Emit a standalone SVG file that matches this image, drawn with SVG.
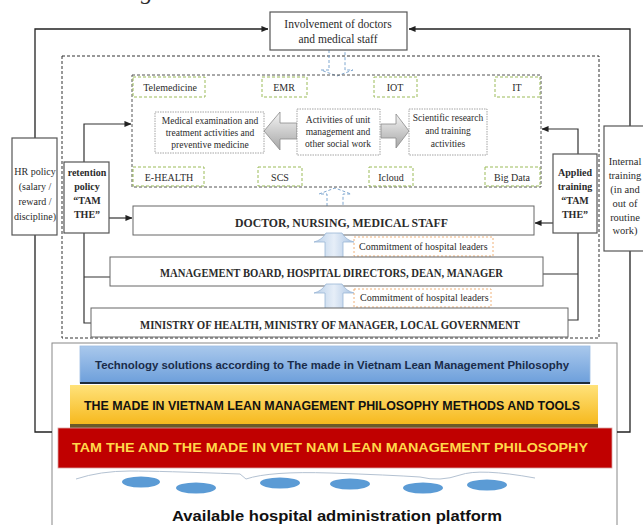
<svg xmlns="http://www.w3.org/2000/svg" width="643" height="525" viewBox="0 0 643 525">
  <defs>
    <style>
      .serif { font-family: "Liberation Serif", "Times New Roman", serif; fill: #2b2b2b; }
      .sans { font-family: "Liberation Sans", Arial, sans-serif; font-weight: bold; }
      .box { fill: #fff; stroke: #555; stroke-width: 1.2; }
      .tier { fill: #fff; stroke: #666; stroke-width: 1; }
      .act { fill: #fff; stroke: #9a9a9a; stroke-width: 0.9; stroke-dasharray: 1.5 1; }
      .tech { fill: none; stroke: #9bbb59; stroke-width: 1; stroke-dasharray: 3 2; }
      .commit { fill: #fff; stroke: #f0b27a; stroke-width: 1; stroke-dasharray: 2 2; }
      .wire { fill: none; stroke: #222; stroke-width: 1.3; }
      .link { fill: none; stroke: #333; stroke-width: 1.2; }
      .flow { fill: none; stroke: #7fa7d0; stroke-width: 1; stroke-dasharray: 3 2; }
      .c { text-anchor: middle; }
    </style>
    <marker id="arr" viewBox="0 0 8 8" refX="7.5" refY="4" markerWidth="7" markerHeight="7" markerUnits="userSpaceOnUse" orient="auto">
      <path d="M0,0.5 L8,4 L0,7.5 Z" fill="#222"/>
    </marker>
    <linearGradient id="gGray" x1="0" y1="0" x2="0" y2="1">
      <stop offset="0" stop-color="#f4f4f4"/>
      <stop offset="1" stop-color="#a6a6a6"/>
    </linearGradient>
    <linearGradient id="gUp" x1="0" y1="0" x2="1" y2="0">
      <stop offset="0" stop-color="#b8cfe8"/>
      <stop offset="0.5" stop-color="#e6eef8"/>
      <stop offset="1" stop-color="#a9c3e2"/>
    </linearGradient>
    <linearGradient id="gBlue" x1="0" y1="0" x2="0" y2="1">
      <stop offset="0" stop-color="#a9c8ec"/>
      <stop offset="1" stop-color="#6d9fdb"/>
    </linearGradient>
    <linearGradient id="gYellow" x1="0" y1="0" x2="0" y2="1">
      <stop offset="0" stop-color="#ffe27a"/>
      <stop offset="1" stop-color="#f6b81c"/>
    </linearGradient>
  </defs>

  <!-- descender of heading text above the figure -->
  <text class="serif" x="141" y="-1" font-size="24" font-style="italic" fill="#222">g</text>

  <!-- outer dashed frame around the organisation levels -->
  <rect x="62" y="56" width="537" height="282" fill="none" stroke="#333" stroke-width="1" stroke-dasharray="3 2"/>

  <!-- platform frame -->
  <rect x="52" y="343" width="565" height="190" fill="#fff" stroke="#888" stroke-width="1"/>

  <!-- connectors -->
  <g id="connectors">
    <path class="wire" d="M35,138 V29 H268" marker-end="url(#arr)"/>
    <path class="wire" d="M35,235 V432 H52"/>
    <path class="wire" d="M630,126 V29 H409" marker-end="url(#arr)"/>
    <path class="wire" d="M630,251 V432 H617"/>
    <path class="link" d="M84,162 V124 H131" marker-end="url(#arr)"/>
    <path class="link" d="M109,218 H132" marker-end="url(#arr)"/>
    <path class="link" d="M84,233 V323 H91 M84,277 H110"/>
    <path class="link" d="M578,154 V129 H542" marker-end="url(#arr)"/>
    <path class="link" d="M553,223 H535" marker-end="url(#arr)"/>
    <path class="link" d="M578,233 V320 H568 M578,274 H543"/>
    <path class="flow" d="M329,50 V70 H321 L337,76 L353,70 H345 V50"/>
    <path class="flow" d="M327,206 V194 H319 L335,188 L351,194 H343 V206"/>
  </g>

  <!-- top node -->
  <g id="involvement">
    <rect class="box" x="270" y="12" width="137" height="38"/>
    <text class="serif c" x="338" y="28" font-size="11.5">Involvement of doctors</text>
    <text class="serif c" x="338" y="43" font-size="11.5">and medical staff</text>
  </g>

  <!-- technology area -->
  <g id="technology">
    <rect x="132" y="75" width="409" height="112" fill="none" stroke="#555" stroke-width="1" stroke-dasharray="3 2"/>
    <rect class="tech" x="133" y="77" width="72" height="20"/>
    <text class="serif c" x="170" y="91" font-size="10">Telemedicine</text>
    <rect class="tech" x="262" y="77" width="45" height="20"/>
    <text class="serif c" x="284" y="91" font-size="10">EMR</text>
    <rect class="tech" x="374" y="77" width="43" height="20"/>
    <text class="serif c" x="395" y="91" font-size="10">IOT</text>
    <rect class="tech" x="495" y="77" width="45" height="20"/>
    <text class="serif c" x="517" y="91" font-size="10">IT</text>
    <rect class="tech" x="133" y="167" width="71" height="19"/>
    <text class="serif c" x="169" y="181" font-size="10">E-HEALTH</text>
    <rect class="tech" x="258" y="167" width="44" height="19"/>
    <text class="serif c" x="280" y="181" font-size="10">SCS</text>
    <rect class="tech" x="369" y="167" width="44" height="19"/>
    <text class="serif c" x="391" y="181" font-size="10">Icloud</text>
    <rect class="tech" x="485" y="167" width="55" height="19"/>
    <text class="serif c" x="512" y="181" font-size="10">Big Data</text>
  </g>

  <g id="medical">
    <rect class="act" x="155" y="112" width="109" height="41"/>
    <text class="serif c" x="210" y="124" font-size="9.5">Medical examination and</text>
    <text class="serif c" x="210" y="136" font-size="9.5">treatment activities and</text>
    <text class="serif c" x="210" y="148" font-size="9.5">preventive medicine</text>
  </g>
  <g id="arrow-left">
    <path d="M297,123 H280 V112 L264,131 L280,150 V139 H297 Z" fill="url(#gGray)" stroke="#8a8a8a" stroke-width="0.8"/>
  </g>
  <g id="unit">
    <rect class="act" x="297" y="109" width="83" height="46"/>
    <text class="serif c" x="338" y="123" font-size="9.5">Activities of unit</text>
    <text class="serif c" x="338" y="135" font-size="9.5">management and</text>
    <text class="serif c" x="338" y="147" font-size="9.5">other social work</text>
  </g>
  <g id="arrow-right">
    <path d="M381,124 H396 V114 L409,131 L396,148 V138 H381 Z" fill="url(#gGray)" stroke="#8a8a8a" stroke-width="0.8"/>
  </g>
  <g id="research">
    <rect class="act" x="409" y="109" width="78" height="46"/>
    <text class="serif c" x="448" y="121" font-size="9.5">Scientific research</text>
    <text class="serif c" x="448" y="134" font-size="9.5">and training</text>
    <text class="serif c" x="448" y="147" font-size="9.5">activities</text>
  </g>

  <!-- side policy nodes -->
  <g id="hr-policy">
    <rect class="box" x="12" y="138" width="45" height="97"/>
    <text class="serif c" x="35" y="175" font-size="10">HR policy</text>
    <text class="serif c" x="35" y="190" font-size="10">(salary /</text>
    <text class="serif c" x="35" y="205" font-size="10">reward /</text>
    <text class="serif c" x="35" y="220" font-size="10">discipline)</text>
  </g>
  <g id="retention">
    <rect class="box" x="64" y="162" width="45" height="71"/>
    <text class="serif c" x="87" y="176" font-size="10" font-weight="bold">retention</text>
    <text class="serif c" x="87" y="190" font-size="10" font-weight="bold">policy</text>
    <text class="serif c" x="87" y="204" font-size="10" font-weight="bold">“TAM</text>
    <text class="serif c" x="87" y="218" font-size="10" font-weight="bold">THE”</text>
  </g>
  <g id="applied">
    <rect class="box" x="553" y="154" width="44" height="79"/>
    <text class="serif c" x="575" y="176" font-size="10" font-weight="bold">Applied</text>
    <text class="serif c" x="575" y="190" font-size="10" font-weight="bold">training</text>
    <text class="serif c" x="575" y="204" font-size="10" font-weight="bold">“TAM</text>
    <text class="serif c" x="575" y="218" font-size="10" font-weight="bold">THE”</text>
  </g>
  <g id="internal">
    <rect class="box" x="604" y="126" width="50" height="125"/>
    <text class="serif c" x="625" y="165" font-size="10.5">Internal</text>
    <text class="serif c" x="625" y="179" font-size="10.5">training</text>
    <text class="serif c" x="625" y="193" font-size="10.5">(in and</text>
    <text class="serif c" x="625" y="207" font-size="10.5">out of</text>
    <text class="serif c" x="625" y="221" font-size="10.5">routine</text>
    <text class="serif c" x="625" y="234" font-size="10.5">work)</text>
  </g>

  <!-- organisation levels -->
  <g id="staff">
    <rect class="tier" x="133" y="206" width="401" height="29"/>
    <text class="serif" x="235" y="227" font-size="11.5" font-weight="bold" textLength="213" lengthAdjust="spacingAndGlyphs">DOCTOR, NURSING, MEDICAL STAFF</text>
  </g>
  <g id="commit-1">
    <path d="M325,261 V242 H314 Q322,240 326,233 H342 Q346,240 354,242 H343 V261 Z" fill="url(#gUp)" stroke="#9bb6d6" stroke-width="0.8"/>
    <rect class="commit" x="354" y="237" width="139" height="19"/>
    <text class="serif" x="359" y="250" font-size="10">Commitment of hospital leaders</text>
  </g>
  <g id="board">
    <rect class="tier" x="110" y="257" width="433" height="29"/>
    <text class="serif" x="160" y="277" font-size="11.5" font-weight="bold" textLength="343" lengthAdjust="spacingAndGlyphs">MANAGEMENT BOARD, HOSPITAL DIRECTORS, DEAN, MANAGER</text>
  </g>
  <g id="commit-2">
    <path d="M325,312 V293 H314 Q322,291 326,284 H342 Q346,291 354,293 H343 V312 Z" fill="url(#gUp)" stroke="#9bb6d6" stroke-width="0.8"/>
    <rect class="commit" x="354" y="289" width="137" height="18"/>
    <text class="serif" x="360" y="301" font-size="10">Commitment of hospital leaders</text>
  </g>
  <g id="ministry">
    <rect class="tier" x="91" y="308" width="477" height="29"/>
    <text class="serif" x="140" y="329" font-size="11.5" font-weight="bold" textLength="380" lengthAdjust="spacingAndGlyphs">MINISTRY OF HEALTH, MINISTRY OF MANAGER, LOCAL GOVERNMENT</text>
  </g>

  <!-- foundation layers -->
  <g id="technology-solutions">
    <rect x="80" y="346" width="510" height="37" fill="url(#gBlue)" stroke="#9dbde4" stroke-width="0.8"/>
    <line x1="80" y1="383" x2="590" y2="383" stroke="#1d2b3a" stroke-width="2"/>
    <text class="sans" x="95" y="369" font-size="11.5" fill="#1a2c4a" textLength="474" lengthAdjust="spacingAndGlyphs">Technology solutions according to The made in Vietnam Lean Management Philosophy</text>
  </g>
  <g id="methods-tools">
    <rect x="70" y="385" width="528" height="40" fill="url(#gYellow)"/>
    <rect x="70" y="424" width="528" height="4" fill="#6b5a2a"/>
    <text class="sans" x="84" y="410" font-size="12.5" fill="#111" textLength="496" lengthAdjust="spacingAndGlyphs">THE MADE IN VIETNAM LEAN MANAGEMENT PHILOSOPHY METHODS AND TOOLS</text>
  </g>
  <g id="philosophy">
    <rect x="58" y="428" width="554" height="40" fill="#c00000" stroke="#d9a0a0" stroke-width="0.8"/>
    <text class="sans" x="72" y="452" font-size="12.5" fill="#ffd84a" textLength="516" lengthAdjust="spacingAndGlyphs">TAM THE AND THE MADE IN VIET NAM LEAN MANAGEMENT PHILOSOPHY</text>
  </g>
  <g id="platform">
    <path d="M76,479 Q100,471 130,471 T240,474 L246,479 Q270,471 330,473 T420,477 Q440,482 460,475 T535,478" fill="none" stroke="#b4c2d2" stroke-width="1"/>
    <g fill="#5b9bd5">
      <ellipse cx="141" cy="482" rx="19" ry="5.5"/>
      <ellipse cx="196" cy="488" rx="20" ry="5.5"/>
      <ellipse cx="280" cy="483" rx="20" ry="5.5"/>
      <ellipse cx="350" cy="484" rx="20" ry="5.5"/>
      <ellipse cx="423" cy="488" rx="20" ry="5.5"/>
      <ellipse cx="487" cy="485" rx="20" ry="5.5"/>
    </g>
    <text class="sans" x="172" y="521" font-size="15" fill="#111" textLength="330" lengthAdjust="spacingAndGlyphs" style="font-weight:600">Available hospital administration platform</text>
  </g>
</svg>
